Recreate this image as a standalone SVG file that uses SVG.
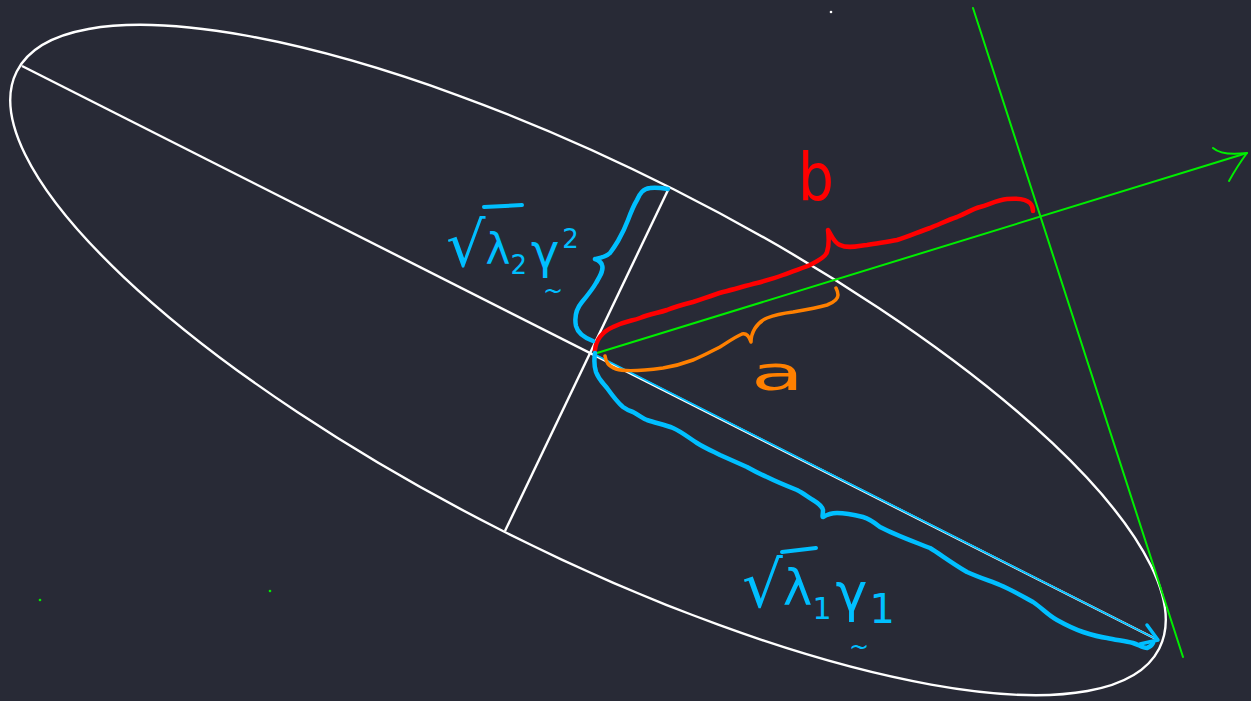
<svg xmlns="http://www.w3.org/2000/svg" width="1251" height="701" viewBox="0 0 1251 701">
<style>
.w{stroke:#ffffff;stroke-width:2.4;fill:none}
.g{stroke:#00ee00;stroke-width:2;fill:none;stroke-linecap:round}
.pen{fill:none;stroke-linecap:round;stroke-linejoin:round}
.blue{stroke:#00bfff}
.red{stroke:#ff0000}
.orange{stroke:#ff8000}
.t{font-family:"DejaVu Sans","Liberation Sans",sans-serif}
.tb{fill:#00bfff}
</style>
<rect width="1251" height="701" fill="#282a36"/>
<g id="ellipse">
<ellipse cx="588" cy="360" rx="640" ry="191" transform="rotate(26.8 588 360)" class="w"/>
<line x1="22" y1="66" x2="1158" y2="640" class="w"/>
<line x1="668" y1="190" x2="505" y2="531" class="w"/>
</g>
<g id="green-axes">
<line x1="597" y1="353" x2="1247" y2="153" class="g"/>
<path d="M1213,148 Q1222,156 1247,153 M1229,181 Q1238,165 1247,153" class="g" stroke-width="3.5"/>
<line x1="973" y1="8" x2="1183" y2="657" class="g"/>
<circle cx="40" cy="600" r="1.3" fill="#00ee00"/>
<circle cx="270" cy="591" r="1.3" fill="#00ee00"/>
<circle cx="831" cy="12" r="1.3" fill="#ffffff"/>
</g>
<g id="gamma1-arrow">
<line x1="596" y1="355" x2="1158" y2="640" class="pen blue" stroke-width="1.8"/>
<path d="M1147,625 L1158,640 L1140,644" class="pen blue" stroke-width="3.5"/>
</g>
<g id="brace-b">
<path class="pen red" stroke-width="4.5" d="M595,350 C596,340 602,332 613,327 C625,321 632,321 640,318 C650,314 658,313 667,310 C677,306 685,304 693,302 C705,298 713,295 723,292 C735,289 745,286 757,283 C768,280 775,278 783,275 C793,271 803,268 810,265 C820,260 826,256 827,252 C829,246 829,238 828,230 C832,236 834,243 840,245 C848,249 858,246 867,245 C878,243 887,242 897,240 C908,237 918,232 930,228 C940,224 948,220 957,217 C967,213 972,209 980,207 C990,204 998,200 1007,199 C1018,198 1026,199 1030,203 C1033,206 1033,209 1033,211"/>
<text x="798" y="200" class="t" font-size="66" fill="#ff0000" textLength="36" lengthAdjust="spacingAndGlyphs">b</text>
</g>
<g id="brace-a">
<path class="pen orange" stroke-width="3.5" d="M605,356 C606,362 608,366 616,369 C625,372 640,371 663,368 C675,366 685,363 693,360 C703,356 712,351 720,347 C728,342 735,337 742,334 C746,333 749,336 751,342 C751,333 756,323 767,318 C777,314 785,313 793,312 C805,310 817,308 827,305 C835,302 838,299 838,295 C838,292 837,290 836,288"/>
<text x="751" y="390" class="t" font-size="48" fill="#ff8000" textLength="53" lengthAdjust="spacingAndGlyphs">a</text>
</g>
<g id="brace-lambda2">
<path class="pen blue" stroke-width="4.5" d="M593,341 C585,338 578,334 576,326 C574,316 577,308 582,302 C587,296 592,290 596,283 C600,276 604,270 602,265 C601,262 598,260 595,259 C600,258 606,257 610,253 C613,249 615,246 618,241 C622,234 625,228 628,220 C631,212 634,205 637,200 C640,193 643,189 650,188 C656,187 662,188 668,189"/>
<text class="t tb" x="446" y="266" font-size="42"><tspan font-size="62">√</tspan><tspan dy="-2">λ</tspan><tspan font-size="26" dy="10">2</tspan><tspan font-size="48" dx="4" dy="-6">γ</tspan><tspan font-size="26" dx="3" dy="-20">2</tspan></text>
<line x1="484" y1="207" x2="522" y2="205" class="pen blue" stroke-width="4"/>
<text class="t tb" font-size="24" x="543" y="299">~</text>
</g>
<g id="brace-lambda1">
<path class="pen blue" stroke-width="4.5" d="M595,353 C594,360 594,366 596,372 C599,380 603,383 607,388 C612,395 617,402 623,407 C627,410 630,411 633,412 C639,415 642,418 647,420 C656,423 665,425 673,428 C682,432 689,438 697,443 C705,448 712,451 720,455 C729,459 738,463 747,467 C754,471 760,474 767,477 C777,482 787,486 797,490 C803,493 808,497 813,500 C818,503 822,506 823,510 C823,514 822,517 823,517 C828,514 832,513 837,513 C846,513 855,515 863,517 C870,519 875,523 880,527 C895,535 915,542 930,548 C940,554 950,562 967,572 C978,577 990,581 1000,585 C1012,590 1022,596 1033,602 C1042,608 1048,615 1057,620 C1066,625 1074,629 1083,632 C1092,635 1099,637 1107,638 C1116,640 1125,641 1133,643 C1139,645 1143,648 1147,648 C1150,647 1152,645 1153,643"/>
<text class="t tb" x="742" y="607" font-size="50"><tspan font-size="64">√</tspan><tspan dy="-2">λ</tspan><tspan font-size="30" dy="14">1</tspan><tspan font-size="54" dx="4" dy="-8">γ</tspan><tspan font-size="40" dx="2" dy="12">1</tspan></text>
<line x1="782" y1="552" x2="816" y2="548" class="pen blue" stroke-width="4"/>
<text class="t tb" font-size="24" x="849" y="655">~</text>
</g>
</svg>
